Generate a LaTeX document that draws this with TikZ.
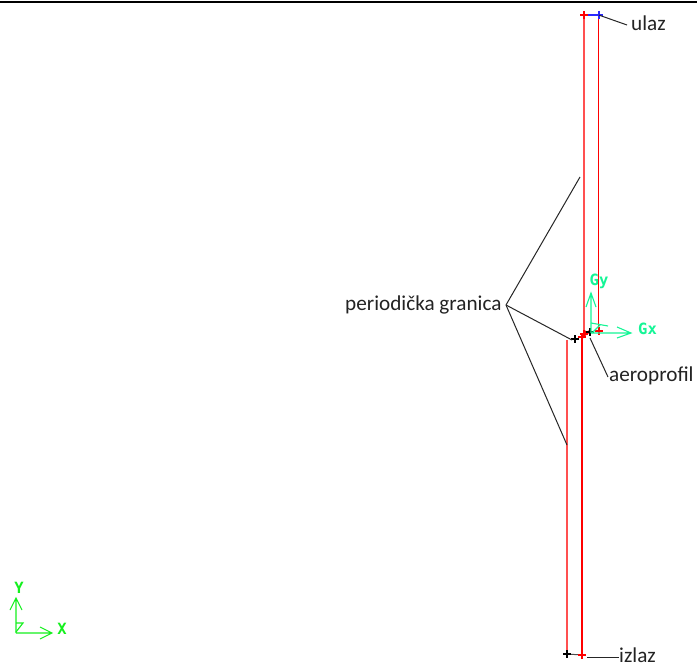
\documentclass[tikz,border=0pt]{standalone}
\usepackage{fontspec}
\setmainfont{Carlito}
\newfontfamily\monof{DejaVu Sans Mono}
\definecolor{gridred}{RGB}{255,0,0}
\definecolor{palered}{RGB}{255,80,80}
\definecolor{lbl}{RGB}{35,35,35}
\definecolor{gcol}{RGB}{20,245,150}
\definecolor{xcol}{RGB}{20,240,30}
\definecolor{bnd}{RGB}{40,40,255}
\tikzset{
  x=1pt,y=-1pt,
  label text/.style={font=\fontsize{21.2}{24}\selectfont,text=lbl,inner sep=0pt,anchor=base west},
  leader/.style={draw=black!85,line width=1pt},
  edge red/.style={draw=gridred,line width=1.3pt},
  edge pale/.style={draw=palered,line width=1.4pt},
  cross/.style={line width=2pt},
  cs/.style={line width=1.1pt},
  axis tag/.style={font=\monof\bfseries\fontsize{15.5}{16}\selectfont,inner sep=0pt}
}
\newcommand{\crossmark}[2]{\draw[cross,#1] ($(#2)+(-4,0)$) -- ($(#2)+(4,0)$) ($(#2)+(0,-4)$) -- ($(#2)+(0,4)$);}
\usetikzlibrary{calc}
\begin{document}
\begin{tikzpicture}
\useasboundingbox (0,0) rectangle (697,666);
\fill[white] (0,0) rectangle (697,666);
\coordinate (tl) at (0,2); \coordinate (tr) at (697,2);
\draw[black,line width=2pt] (tl) -- (tr);
% grid points
\coordinate (A) at (584,15);
\coordinate (B) at (598.7,15);
\coordinate (C) at (598.7,331);
\coordinate (D) at (584,334);
\coordinate (E) at (582,337);
\coordinate (F) at (567,340);
\coordinate (G) at (567,654);
\coordinate (H) at (582,655);
\coordinate (P) at (575,339);
\coordinate (Q) at (590,332);
\draw[edge pale] (A) -- (D);
\draw[edge red] (B) -- (C);
\draw[edge pale] (F) -- (G);
\draw[edge red] (E) -- (H);
\draw[bnd,line width=1.2pt] (A) -- (B);
\draw[black!70,line width=1pt] (G) -- (H);
\draw[gridred,line width=2.4pt] (583,336) -- (590,331);
\draw[gridred,line width=2.4pt] (582,338) -- (586,331);
\crossmark{gridred}{A}
\crossmark{bnd}{B}
\crossmark{gridred}{C}
\crossmark{gridred}{D}
\crossmark{gridred}{E}
\crossmark{black}{P}
\crossmark{black}{Q}
\crossmark{black}{G}
\crossmark{gridred}{H}
% labels
\node[label text] (ulaz) at (631,31) {ulaz};
\node[label text] (izlaz) at (619,662) {izlaz};
\node[label text] (aero) at (609,381) {aeroprofil};
\node[label text] (per) at (345,310) {periodička granica};
% leaders
\coordinate (per1) at (580,177);
\coordinate (per2) at (572,340);
\coordinate (per3) at (567,445);
\coordinate (perO) at (506,305);
\draw[leader] (perO) -- (per1);
\draw[leader] (perO) -- (per2);
\draw[leader] (perO) -- (per3);
\coordinate (ulazE) at (627,25);
\coordinate (izlazE) at (619,657);
\coordinate (aeroE) at (608,377);
\draw[leader] (B) -- (ulazE);
\draw[leader] (587,657) -- (izlazE);
\draw[leader] (590,338) -- (aeroE);
% gravity triad
\coordinate (g0) at (591,333);
\coordinate (gx) at (631,333);
\coordinate (gy) at (591,293);
\draw[gcol,cs] (g0) -- (gx) (617,327) -- (gx) -- (617,338);
\draw[gcol,cs] (g0) -- (gy) (586,307) -- (gy) -- (596,307);
\draw[gcol,cs] (591,323) -- (608,326);
\draw[gcol,cs] (600,325) -- (592,333);
\node[axis tag,text=gcol] (Gx) at (647.5,328.5) {Gx};
\node[axis tag,text=gcol] (Gy) at (599,281) {Gy};
% global triad
\coordinate (o) at (16,633);
\coordinate (xe) at (52,633);
\coordinate (ye) at (16,598);
\draw[xcol,cs] (o) -- (xe) (40,627) -- (xe) -- (40,639);
\draw[xcol,cs] (o) -- (ye) (10,610) -- (ye) -- (22,610);
\draw[xcol,cs] (16,623) -- (23,623) -- (16,632);
\node[axis tag,text=xcol] (X) at (62,628.5) {X};
\node[axis tag,text=xcol] (Y) at (19,587.5) {Y};
\end{tikzpicture}
\end{document}
